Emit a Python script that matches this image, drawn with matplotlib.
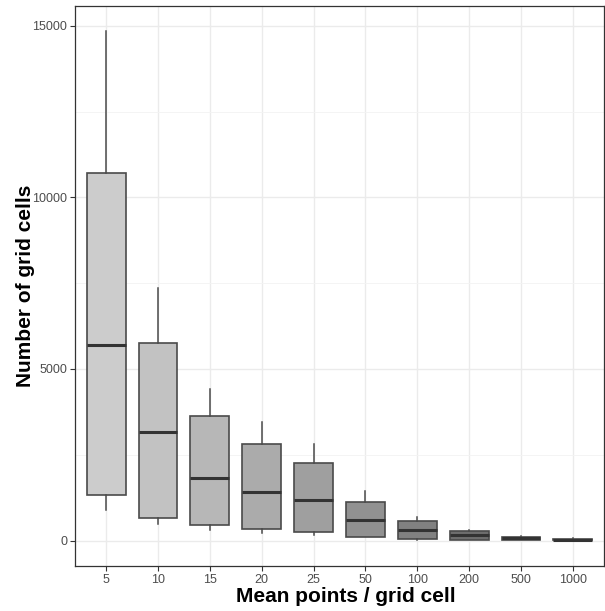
import numpy as np
import matplotlib
matplotlib.use("Agg")
import matplotlib.pyplot as plt
from matplotlib.ticker import MultipleLocator

plt.rcParams['font.family'] = ['Liberation Sans', 'DejaVu Sans']

categories = ['5', '10', '15', '20', '25', '50', '100', '200', '500', '1000']
whisk_lo = [900, 470, 300, 225, 175, 100, 30, 10, 5, 2]
q1 = [1340, 660, 450, 330, 255, 117, 58, 30, 9, 5]
median = [5710, 3165, 1835, 1425, 1195, 600, 310, 155, 67, 30]
q3 = [10700, 5760, 3640, 2805, 2260, 1115, 565, 282, 108, 55]
whisk_hi = [14835, 7360, 4420, 3445, 2825, 1437, 680, 320, 137, 65]

# grey.colors style fill, light -> dark
n = len(categories)
g = np.linspace(0.8 ** 2.2, 0.2 ** 2.2, n) ** (1 / 2.2)
fills = [(v, v, v) for v in g]

stats = []
for i, lab in enumerate(categories):
    stats.append(dict(label=lab, whislo=whisk_lo[i], q1=q1[i], med=median[i],
                      q3=q3[i], whishi=whisk_hi[i], fliers=[]))

fig = plt.figure(figsize=(6.05, 6.11), dpi=100)
ax = fig.add_axes([75 / 605, 1 - 566 / 611, 529 / 605, 560 / 611])

pos = np.arange(1, n + 1)
bp = ax.bxp(stats, positions=pos, widths=0.75, patch_artist=True, showcaps=False,
            boxprops=dict(edgecolor='#4a4a4a', linewidth=1.2),
            whiskerprops=dict(color='#4a4a4a', linewidth=1.1),
            medianprops=dict(color='#333333', linewidth=2.2), zorder=3)
for patch, c in zip(bp['boxes'], fills):
    patch.set_facecolor(c)

ax.set_xlim(0.4, n + 0.6)
ax.set_ylim(-742, 15577)
ax.set_xticks(pos)
ax.set_xticklabels(categories)
ax.yaxis.set_major_locator(MultipleLocator(5000))
ax.yaxis.set_minor_locator(MultipleLocator(2500))

ax.grid(True, which='major', color='#ebebeb', linewidth=1.0, zorder=0)
ax.grid(True, which='minor', axis='y', color='#f3f3f3', linewidth=0.6, zorder=0)
ax.set_axisbelow(True)

for s in ax.spines.values():
    s.set_color('#333333')
    s.set_linewidth(0.9)

ax.tick_params(axis='both', which='major', length=3.5, width=0.8, color='#333333',
               labelcolor='#4d4d4d', labelsize=9, pad=2)
ax.tick_params(axis='y', which='minor', length=0)

ax.set_xlabel('Mean points / grid cell', fontsize=15, fontweight='bold')
ax.set_ylabel('Number of grid cells', fontsize=15, fontweight='bold')
ax.xaxis.set_label_coords(0.512, -0.037, transform=ax.transAxes)
ax.xaxis.label.set_va('top')
ax.yaxis.set_label_coords(-0.075, 0.5, transform=ax.transAxes)
ax.yaxis.label.set_va('bottom')

fig.savefig('out.png', dpi=100)
